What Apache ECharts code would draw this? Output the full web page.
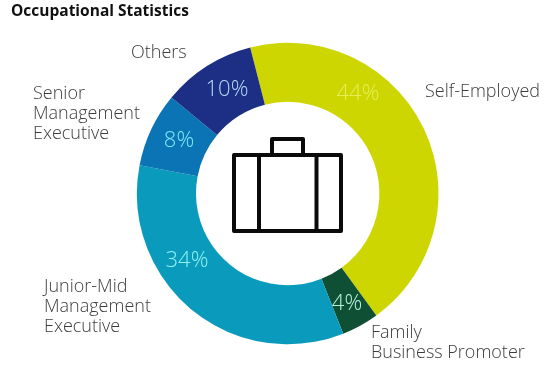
<!DOCTYPE html>
<html>
<head>
<meta charset="utf-8">
<style>
  html, body { margin: 0; background: #fff; }
  #chart { width: 550px; height: 373px; }
</style>
<script src="https://cdn.jsdelivr.net/npm/echarts@6/dist/echarts.min.js"></script>
</head>
<body>
<div id="chart"></div>
<script>
const occupations = [
  "Self-Employed",
  "Family\nBusiness Promoter",
  "Junior-Mid\nManagement\nExecutive",
  "Senior\nManagement\nExecutive",
  "Others",
];
const shares = [44, 4, 34, 8, 10];
const sliceColors = ["#cdd600", "#0f5035", "#0a9abb", "#0a74b4", "#1c2f84"];
const percentColors = ["#e8ee55", "#b5f2dc", "#8ff0f5", "#7fe6f5", "#b5d8f5"];

// label anchors in the picture, they do not sit on the ring's mid angle
const percentSpots = [[358, 94], [347, 304], [187, 261], [179, 141], [227, 90]];
const nameSpots = [[425, 92], [371, 343], [44, 307], [33, 114], [131, 53]];

const fontFamily = '"Open Sans", sans-serif';
const center = [287.7, 193.5];
const radius = [91.7, 150.8];

const chart = echarts.init(document.getElementById("chart"), null, { renderer: "canvas" });

const iconLine = { stroke: "#0a0a0a", lineWidth: 4, fill: "transparent", lineJoin: "round" };

chart.setOption({
  animation: false,
  backgroundColor: "#fff",
  title: {
    text: "Occupational Statistics",
    left: 11,
    top: 4,
    padding: 0,
    textStyle: { fontFamily, fontSize: 15.5, fontWeight: 700, color: "#111" },
  },
  series: [
    {
      // ring + percent labels
      type: "pie",
      silent: true,
      center,
      radius,
      startAngle: 104.4,
      data: occupations.map((name, i) => ({
        name,
        value: shares[i],
        itemStyle: { color: sliceColors[i] },
        label: { color: percentColors[i] },
      })),
      label: {
        position: "inside",
        formatter: (p) => p.value + "%",
        fontFamily,
        fontSize: 22,
        fontWeight: 300,
      },
      labelLine: { show: false },
      labelLayout: (p) => ({
        x: percentSpots[p.dataIndex][0],
        y: percentSpots[p.dataIndex][1],
        align: "center",
        verticalAlign: "middle",
      }),
    },
    {
      // same ring again, only to carry the names outside
      type: "pie",
      silent: true,
      center,
      radius,
      startAngle: 104.4,
      itemStyle: { color: "transparent" },
      data: occupations.map((name, i) => ({ name, value: shares[i] })),
      label: {
        position: "outside",
        formatter: "{b}",
        overflow: "none",
        fontFamily,
        fontSize: 18,
        fontWeight: 300,
        lineHeight: 20,
        color: "#3c3c3c",
      },
      labelLine: { show: false },
      labelLayout: (p) => ({
        x: nameSpots[p.dataIndex][0],
        y: nameSpots[p.dataIndex][1],
        align: "left",
        verticalAlign: "middle",
      }),
    },
  ],
  graphic: [
    // briefcase
    { type: "rect", shape: { x: 234, y: 155, width: 107, height: 76 }, style: iconLine },
    { type: "rect", shape: { x: 272, y: 139, width: 31, height: 16 }, style: iconLine },
    { type: "line", shape: { x1: 259, y1: 155, x2: 259, y2: 231 }, style: iconLine },
    { type: "line", shape: { x1: 316.5, y1: 155, x2: 316.5, y2: 231 }, style: iconLine },
  ],
});
</script>
</body>
</html>
